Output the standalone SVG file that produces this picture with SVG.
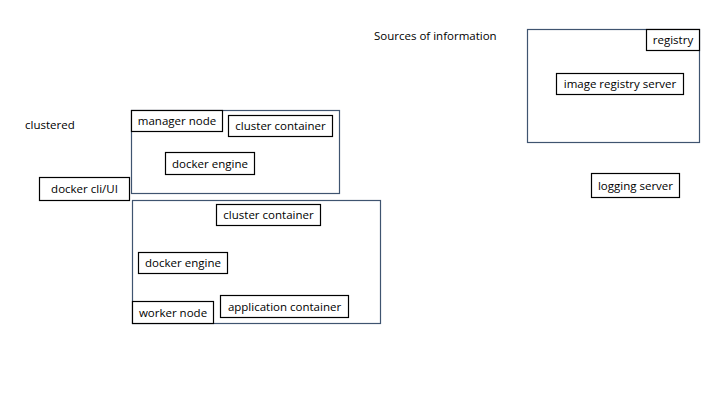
<svg xmlns="http://www.w3.org/2000/svg" width="720" height="405" viewBox="0 0 720 405">
<style>
.outer{fill:none;stroke:#3f5470;stroke-width:1.2}
.box{fill:#fff;stroke:#000;stroke-width:1.2}
text{font-family:"Open Sans","Liberation Sans",sans-serif;font-size:11.5px;fill:#000}
.c{text-anchor:middle}
</style>
<rect width="720" height="405" fill="#fff"/>
<g id="sources-label"><text x="374" y="40">Sources of information</text></g>
<g id="clustered-label"><text x="25" y="129">clustered</text></g>
<g id="manager-node">
<rect class="outer" x="131.5" y="110.5" width="208" height="83"/>
<rect class="box" x="131.5" y="110.5" width="91" height="21"/>
<text class="c" x="177" y="125">manager node</text>
</g>
<g id="manager-cluster-container">
<rect class="box" x="228.5" y="115.5" width="104" height="21"/>
<text class="c" x="280.5" y="130">cluster container</text>
</g>
<g id="manager-docker-engine">
<rect class="box" x="165.5" y="152.5" width="89" height="22"/>
<text class="c" x="210" y="167.5">docker engine</text>
</g>
<g id="worker-node">
<rect class="outer" x="132.5" y="200.5" width="248" height="123"/>
<rect class="box" x="132.5" y="301.5" width="81" height="22"/>
<text class="c" x="173" y="316.5">worker node</text>
</g>
<g id="worker-cluster-container">
<rect class="box" x="216.5" y="204.5" width="104" height="21"/>
<text class="c" x="268.5" y="219">cluster container</text>
</g>
<g id="worker-docker-engine">
<rect class="box" x="138.5" y="252.5" width="89" height="21"/>
<text class="c" x="183" y="267">docker engine</text>
</g>
<g id="application-container">
<rect class="box" x="220.5" y="295.5" width="128" height="22"/>
<text class="c" x="284.5" y="310.5">application container</text>
</g>
<g id="docker-cli">
<rect class="box" x="39.5" y="177.5" width="90" height="23"/>
<text class="c" x="84.5" y="193">docker cli/UI</text>
</g>
<g id="registry">
<rect class="outer" x="527.5" y="29.5" width="172" height="113"/>
<rect class="box" x="646.5" y="29.5" width="53" height="21"/>
<text class="c" x="673" y="44">registry</text>
</g>
<g id="image-registry-server">
<rect class="box" x="556.5" y="73.5" width="127" height="21"/>
<text class="c" x="620" y="88">image registry server</text>
</g>
<g id="logging-server">
<rect class="box" x="591.5" y="173.5" width="88" height="24"/>
<text class="c" x="635.5" y="189.5">logging server</text>
</g>
<g id="connectors"></g>
</svg>
